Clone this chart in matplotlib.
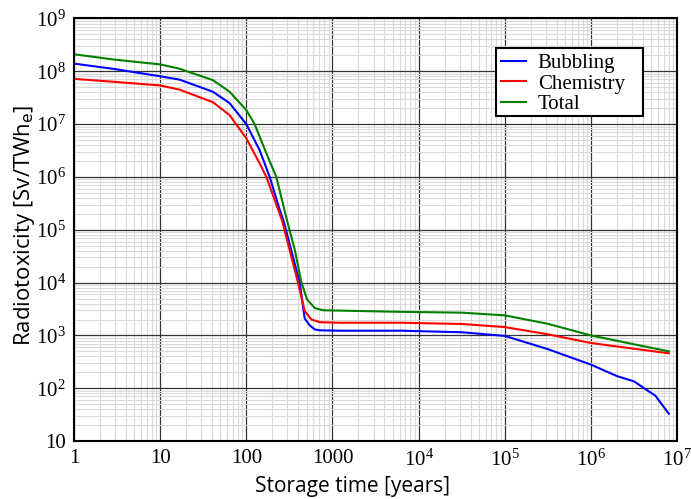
import numpy as np
import matplotlib.pyplot as plt
from matplotlib.patches import Rectangle
from matplotlib.ticker import FuncFormatter, FixedLocator

plt.rcParams['mathtext.fontset'] = 'custom'
plt.rcParams['mathtext.rm'] = 'Liberation Serif'
plt.rcParams['mathtext.it'] = 'Liberation Serif:italic'

# storage time [years] and radiotoxicity [Sv/TWhe]
t_bub = [1, 3, 10, 16.8, 41, 64, 100, 143, 187, 244, 270, 417, 476, 545, 623,
         713, 1230, 6200, 3.16e4, 1e5, 3.16e5, 1e6, 2e6, 3.16e6, 5.6e6, 8e6]
bubbling = [1.4e8, 1.1e8, 8.05e7, 6.96e7, 4.1e7, 2.5e7, 1e7, 3.2e6, 1e6, 2.4e5,
            1.5e5, 1e4, 2.1e3, 1.55e3, 1.3e3, 1.25e3, 1.23e3, 1.23e3, 1.15e3,
            9.8e2, 5.5e2, 2.8e2, 1.7e2, 1.35e2, 72, 33]

t_chem = [1, 3, 10, 16.8, 41, 64, 100, 143, 171, 260, 398, 476, 570, 713, 1230,
          6200, 3.16e4, 1e5, 3.16e5, 1e6, 3.16e6, 8e6]
chemistry = [7.2e7, 6.3e7, 5.4e7, 4.5e7, 2.6e7, 1.48e7, 5.4e6, 1.8e6, 1e6,
             1.5e5, 1e4, 2.9e3, 2.0e3, 1.78e3, 1.74e3, 1.74e3, 1.65e3, 1.44e3,
             1.05e3, 7.2e2, 5.6e2, 4.6e2]

t_tot = [1, 3, 10, 16.8, 41, 64, 100, 125, 171, 223, 297, 365, 437, 507, 623,
         776, 1230, 6200, 3.16e4, 1e5, 3.16e5, 1e6, 3.16e6, 8e6]
total = [2.1e8, 1.66e8, 1.35e8, 1.12e8, 6.8e7, 4.1e7, 1.85e7, 1e7, 2.8e6, 1e6,
         1.5e5, 4.2e4, 1e4, 4.8e3, 3.3e3, 3.0e3, 2.95e3, 2.8e3, 2.7e3, 2.4e3,
         1.66e3, 1.0e3, 6.8e2, 5.0e2]

x_decades = [10.0 ** i for i in range(0, 8)]
y_decades = [10.0 ** i for i in range(1, 10)]

fig = plt.figure(figsize=(6.91, 4.99), dpi=100)
ax = fig.add_axes([0.107, 0.116, 0.873, 0.847])

ax.plot(t_bub, bubbling, color='#0000ff', lw=1.5, label='Bubbling')
ax.plot(t_chem, chemistry, color='#ff0000', lw=1.5, label='Chemistry')
ax.plot(t_tot, total, color='#008000', lw=1.5, label='Total')

ax.set_xscale('log')
ax.set_yscale('log')
ax.set_xlim(1, 1e7)
ax.set_ylim(10, 1e9)

# only ticks inside the view, so no stray labels off the edges
ax.xaxis.set_major_locator(FixedLocator(x_decades))
ax.yaxis.set_major_locator(FixedLocator(y_decades))
ax.xaxis.set_minor_locator(FixedLocator([d * k for d in x_decades[:-1] for k in range(2, 10)]))
ax.yaxis.set_minor_locator(FixedLocator([d * k for d in y_decades[:-1] for k in range(2, 10)]))

xlab = lambda v, p: ('%d' % v) if v < 1e4 else r'$10^{%d}$' % round(np.log10(v))
ylab = lambda v, p: ('%d' % v) if v < 100 else r'$10^{%d}$' % round(np.log10(v))
ax.xaxis.set_major_formatter(FuncFormatter(xlab))
ax.yaxis.set_major_formatter(FuncFormatter(ylab))
ax.xaxis.set_minor_formatter(FuncFormatter(lambda v, p: ''))
ax.yaxis.set_minor_formatter(FuncFormatter(lambda v, p: ''))

ax.grid(which='major', color='#333333', lw=0.9)
ax.grid(which='minor', color='#d9d9d9', lw=0.8)
ax.set_axisbelow(True)

ax.tick_params(which='both', length=0, labelsize=15, pad=6)
for lbl in ax.get_xticklabels() + ax.get_yticklabels():
    lbl.set_family('Liberation Serif')
for s in ax.spines.values():
    s.set_linewidth(1.5)

ax.set_xlabel('Storage time [years]', family='Open Sans', fontsize=15)
ax.xaxis.set_label_coords(0.461, -0.083)
ax.set_ylabel(r'Radiotoxicity [Sv/TWh$_\mathsf{e}$]', family='Open Sans',
              fontsize=16)
ax.yaxis.set_label_coords(-0.062, 0.511)

# legend box drawn by hand: wider on the right than matplotlib's own frame
ax.add_patch(Rectangle((0.6998, 0.769), 0.2438, 0.1608, transform=ax.transAxes,
                       facecolor='white', edgecolor='black', lw=1.5,
                       zorder=4.5, clip_on=False))
leg = ax.legend(loc='upper left', bbox_to_anchor=(0.6998, 0.9298), borderaxespad=0,
                frameon=False, handlelength=1.2, handletextpad=0.55,
                borderpad=0.25, labelspacing=0.05,
                prop={'family': 'Liberation Serif', 'size': 15})

fig.savefig('out.png', dpi=100)
